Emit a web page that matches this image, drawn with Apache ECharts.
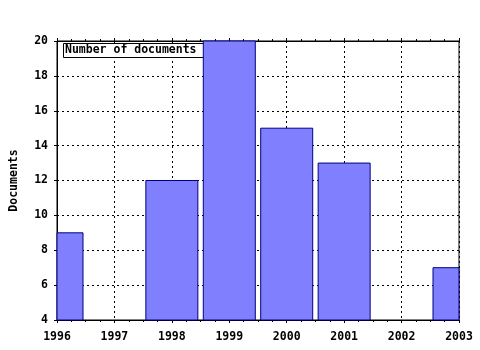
<!DOCTYPE html>
<html><head><meta charset="utf-8">
<script src="https://cdn.jsdelivr.net/npm/echarts@6/dist/echarts.min.js"></script>
<style>html,body{margin:0;padding:0;background:#fff}#c{width:480px;height:350px}</style>
</head><body><div id="c"></div>
<script>
const years = [1996, 1997, 1998, 1999, 2000, 2001, 2002, 2003];
const documents = [9, null, 12, 20, 15, 13, null, 7];
const yTicks = [4, 6, 8, 10, 12, 14, 16, 18, 20];
const seriesName = 'Number of documents';
const yTitle = 'Documents';

const font = 'DejaVu Sans Mono';
const yMin = yTicks[0], yMax = yTicks[yTicks.length - 1];
const chart = echarts.init(document.getElementById('c'), null, {renderer: 'canvas'});
const data = years.map((y, i) => [y, documents[i] == null ? '-' : documents[i]]);
const BAR_W = 52;
chart.setOption({
  animation: false,
  backgroundColor: '#fff',
  grid: {left: 57, right: 21, top: 41, bottom: 30, containLabel: false, outerBoundsMode: 'none',
    show: true, borderColor: '#000', borderWidth: 1, backgroundColor: 'transparent'},
  xAxis: [{
    type: 'value', min: years[0], max: years[years.length - 1], interval: 1,
    axisLine: {show: true, lineStyle: {color: '#000', width: 1}},
    axisTick: {show: true, length: 3, lineStyle: {color: '#000'}},
    minorTick: {show: true, splitNumber: 4, length: 2, lineStyle: {color: '#000'}},
    axisLabel: {color: '#000', fontFamily: font, fontWeight: 'bold', fontSize: 11.5, margin: 11,
      formatter: v => String(v)},
    splitLine: {show: true, lineStyle: {color: '#000', type: [2, 3], width: 1}}
  }, {
    type: 'value', position: 'top', min: years[0], max: years[years.length - 1], interval: 1,
    axisLine: {show: true, lineStyle: {color: '#000', width: 1}},
    axisTick: {show: true, length: 3, lineStyle: {color: '#000'}},
    minorTick: {show: true, splitNumber: 4, length: 2, lineStyle: {color: '#000'}},
    axisLabel: {show: false}, splitLine: {show: false}
  }],
  yAxis: {
    type: 'value', min: yMin, max: yMax, interval: 2,
    name: yTitle, nameLocation: 'middle', nameGap: 37, nameRotate: 90,
    nameTextStyle: {color: '#000', fontFamily: font, fontWeight: 'bold', fontSize: 11.5},
    axisLine: {show: true, lineStyle: {color: '#000', width: 1}},
    axisTick: {show: true, length: 3, lineStyle: {color: '#000'}},
    axisLabel: {color: '#000', fontFamily: font, fontWeight: 'bold', fontSize: 11.5, margin: 9},
    splitLine: {show: true, lineStyle: {color: '#000', type: [2, 3], width: 1}}
  },
  graphic: [{
    type: 'rect', left: 63, top: 43, z: 5,
    shape: {width: 141, height: 14},
    style: {fill: '#fff', stroke: '#000', lineWidth: 1}
  }, {
    type: 'text', left: 65, top: 44, z: 6,
    style: {text: seriesName, fill: '#000', font: 'bold 11.5px "DejaVu Sans Mono"'}
  }],
  series: [{
    type: 'custom', name: seriesName, data: data, z: 10,
    encode: {x: 0, y: 1},
    renderItem: function (params, api) {
      const v = api.value(1);
      if (v == null || isNaN(v)) return null;
      const x = api.value(0);
      const top = api.coord([x, v]);
      const base = api.coord([x, yMin]);
      const cs = params.coordSys;
      const rect = echarts.graphic.clipRectByRect(
        {x: top[0] - BAR_W / 2, y: top[1], width: BAR_W, height: base[1] - top[1]},
        {x: cs.x, y: cs.y, width: cs.width, height: cs.height});
      if (!rect) return null;
      return {type: 'rect', shape: rect,
        style: {fill: '#8080ff', stroke: '#000080', lineWidth: 1}};
    }
  }]
});
</script></body></html>
